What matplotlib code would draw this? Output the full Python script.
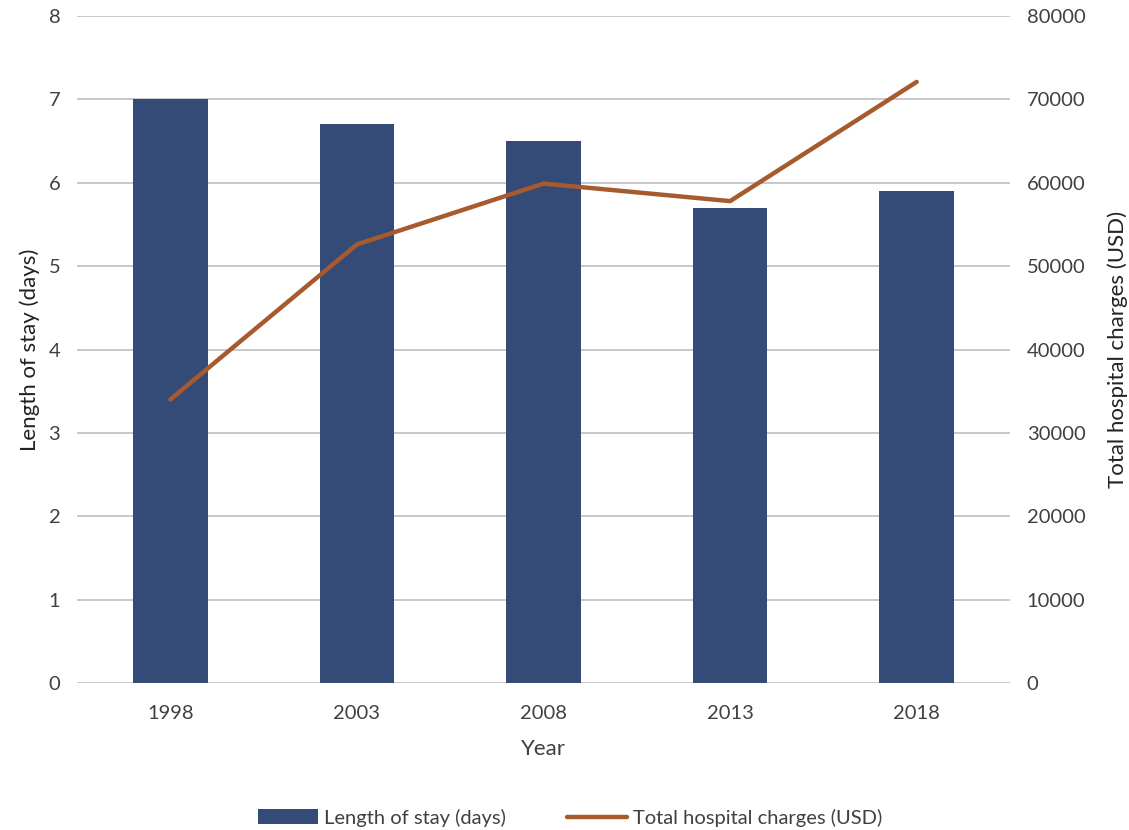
import matplotlib
matplotlib.use("Agg")
import matplotlib.pyplot as plt

years = ["1998", "2003", "2008", "2013", "2018"]
length_of_stay = [7.0, 6.7, 6.5, 5.7, 5.9]
total_charges = [34000, 52600, 59900, 57800, 72100]

plt.rcParams['font.family'] = ['Lato', 'DejaVu Sans']

fig = plt.figure(figsize=(11.29, 8.30), dpi=100)
ax = fig.add_axes([0.0682, 0.1771, 0.8264, 0.8036])
x = list(range(len(years)))
bar_color = "#344B77"
line_color = "#A65A2E"
text_color = "#404040"

bars = ax.bar(x, length_of_stay, width=0.4, color=bar_color, zorder=2,
              label="Length of stay (days)")
ax.set_ylim(0, 8)
ax.set_xlim(-0.5, 4.5)
ax.set_yticks(range(0, 9))
ax.grid(axis='y', color="#BFBFBF", linewidth=1.2, zorder=0)
ax.set_axisbelow(True)
for s in ax.spines.values():
    s.set_visible(False)
ax.set_xticks(x)
ax.set_xticklabels(years)
ax.tick_params(axis='both', length=0, labelsize=14.5, colors=text_color, pad=12)
ax.tick_params(axis='x', pad=16)
ax.set_xlabel("Year", fontsize=16, color=text_color, labelpad=12)
ax.set_ylabel("Length of stay (days)", fontsize=16, color="#222222", labelpad=6)

ax2 = ax.twinx()
line, = ax2.plot(x, total_charges, color=line_color, linewidth=3.2,
                 solid_capstyle='round', solid_joinstyle='round',
                 label="Total hospital charges (USD)", zorder=3)
ax2.set_ylim(0, 80000)
ax2.set_yticks(range(0, 80001, 10000))
for s in ax2.spines.values():
    s.set_visible(False)
ax2.tick_params(axis='y', length=0, labelsize=14.5, colors=text_color, pad=12)
ax2.set_ylabel("Total hospital charges (USD)", fontsize=16, color="#222222", labelpad=16)

fig.legend([bars, line], ["Length of stay (days)", "Total hospital charges (USD)"],
           loc='center', bbox_to_anchor=(0.505, 0.015), ncol=2, frameon=False,
           fontsize=14.5, handlelength=3.0, columnspacing=3.0, handletextpad=0.3,
           labelcolor=text_color)

fig.savefig("out.png", dpi=100)
